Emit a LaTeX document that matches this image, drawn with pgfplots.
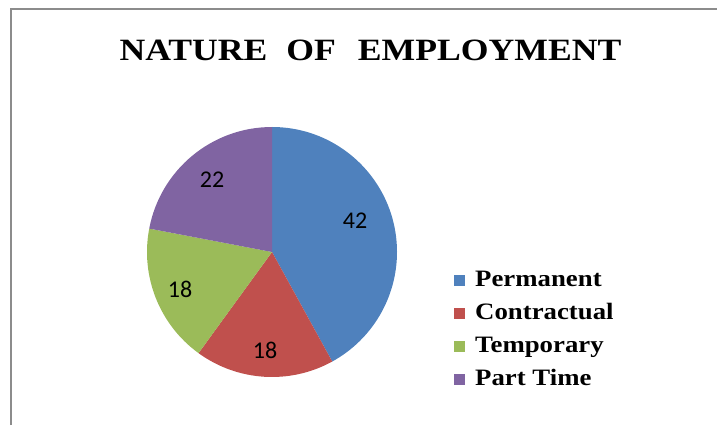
\documentclass[border=0pt]{standalone}
\usepackage{fontspec}
\setmainfont{Liberation Serif}
\newfontfamily\numfont{Carlito}
\newfontfamily\titlefont{Liberation Serif Bold}[FakeStretch=1.15]
\newfontfamily\legfont{Liberation Serif Bold}[FakeStretch=1.14]
\usepackage{pgfplots}
\usepackage{pgfplotstable}
\pgfplotsset{compat=1.18}
\definecolor{pblue}{HTML}{4F81BD}
\definecolor{pred}{HTML}{C0504D}
\definecolor{pgreen}{HTML}{9BBB59}
\definecolor{ppurple}{HTML}{8064A2}
\definecolor{framegray}{HTML}{8C8C8C}

% slices, clockwise from 12 o'clock
\pgfplotstableread{
name value colour
Permanent 42 pblue
Contractual 18 pred
Temporary 18 pgreen
PartTime 22 ppurple
}\pietable

\pgfplotsset{sqlegend/.style={legend image code/.code={\fill[##1] (0pt,-5.5pt) rectangle (11pt,5.5pt);}}}

\begin{document}
\begin{tikzpicture}
\begin{axis}[
  x=1pt, y=1pt,
  xmin=0, xmax=718, ymin=0, ymax=425,
  hide axis, clip=false,
  legend cell align=left,
  legend style={at={(axis cs:454,156)}, anchor=north west, draw=none, fill=none,
    inner sep=0pt, row sep=10pt, font=\legfont\fontsize{23.5}{27}\selectfont,
    /tikz/every odd column/.append style={column sep=10pt},
    nodes={inner sep=0pt, text height=17pt, text depth=6pt}},
]
\path (axis cs:0,0) rectangle (axis cs:718,425);
% outer frame (only top and left edges are visible)
\draw[framegray, line width=2pt] (axis cs:11,0) -- (axis cs:11,416) -- (axis cs:717,416);

\def\startang{90}
\pgfplotsforeachungrouped \i in {0,...,3}{%
  \pgfplotstablegetelem{\i}{value}\of\pietable \let\val\pgfplotsretval
  \pgfplotstablegetelem{\i}{colour}\of\pietable \let\col\pgfplotsretval
  \pgfmathsetmacro\endang{\startang-3.6*\val}%
  \edef\slice{\noexpand\fill[\col] (axis cs:272,173) -- ++(\startang:125pt)
    arc[start angle=\startang, end angle=\endang, radius=125pt] -- cycle;}%
  \slice
  \global\let\startang\endang
}

\addlegendimage{sqlegend, fill=pblue, draw=none}
\addlegendimage{sqlegend, fill=pred, draw=none}
\addlegendimage{sqlegend, fill=pgreen, draw=none}
\addlegendimage{sqlegend, fill=ppurple, draw=none}
\legend{Permanent, Contractual, Temporary, Part Time}

\begin{scope}[every node/.style={font=\numfont\fontsize{24}{28}\selectfont}]
\node at (axis cs:355,204) {42};
\node at (axis cs:265,75) {18};
\node at (axis cs:180,136) {18};
\node at (axis cs:212,245) {22};
\end{scope}

\node[anchor=base, font=\titlefont\fontsize{31}{36}\selectfont]
  at (axis cs:370.5,364) {NATURE\hspace{19pt}OF\hspace{22pt}EMPLOYMENT};
\end{axis}
\end{tikzpicture}
\end{document}
